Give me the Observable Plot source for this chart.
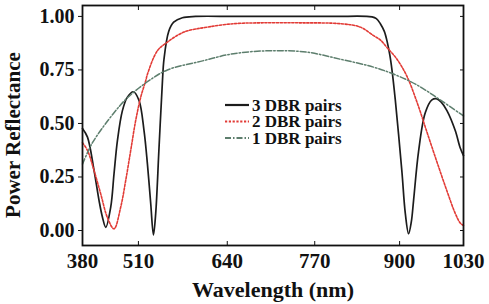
<!DOCTYPE html>
<html>
<head>
<meta charset="utf-8">
<script src="https://cdn.jsdelivr.net/npm/d3@7"></script>
<script src="https://cdn.jsdelivr.net/npm/@observablehq/plot@0.6"></script>
<style>
  html, body { margin: 0; padding: 0; background: #fff; }
  #chart { position: relative; width: 489px; height: 304px; }
</style>
</head>
<body>
<div id="chart"></div>
<script>
// ---- data (wavelength in nm as labelled, reflectance 0..1) ----
const xTickLabels = [380, 510, 640, 770, 900, 1030];
const yTickValues = [0, 0.25, 0.5, 0.75, 1.0];
const seriesNames = ["3 DBR pairs", "2 DBR pairs", "1 DBR pairs"];

const wl3 = [380, 391.6, 406.9, 418.5, 426.4, 434.1, 445.7, 453.3, 461.2, 472.8, 484.4, 498.4, 510.9, 518.2, 523.2, 528, 532, 535.3, 540.2, 545.2, 547.4, 554.3, 561.6, 574.3, 593.7, 650, 720, 800, 857.8, 864.4, 870.5, 876.6, 881.1, 885, 888.3, 893.4, 898.4, 904.9, 911.6, 918.3, 923.8, 928.4, 938.6, 952.2, 965.8, 976, 984.7, 996.3, 1013.2, 1023.4, 1030];
const r3  = [0.477, 0.436, 0.28, 0.14, 0.062, 0.015, 0.11, 0.265, 0.42, 0.56, 0.623, 0.648, 0.607, 0.467, 0.31, 0.126, -0.02, 0.08, 0.39, 0.70, 0.80, 0.93, 0.973, 0.994, 1.0, 1.0, 1.0, 1.0, 0.998, 0.99, 0.966, 0.93, 0.88, 0.82, 0.75, 0.61, 0.45, 0.27, 0.08, -0.015, 0.04, 0.14, 0.37, 0.55, 0.61, 0.615, 0.6, 0.56, 0.467, 0.385, 0.35];

const wl2 = [380, 391.6, 406.9, 422.5, 438, 453.3, 468.9, 480.5, 492.1, 503.7, 513.4, 520.7, 523.2, 537.8, 552.4, 576.7, 610.8, 649.3, 689.4, 748.7, 809.3, 839.9, 860.2, 870.5, 880.7, 896, 915, 935.3, 955.6, 976, 996.3, 1013.2, 1023.4, 1030];
const r2  = [0.41, 0.374, 0.28, 0.17, 0.06, 0.008, 0.11, 0.234, 0.374, 0.514, 0.623, 0.70, 0.73, 0.84, 0.88, 0.927, 0.95, 0.966, 0.97, 0.97, 0.966, 0.95, 0.91, 0.89, 0.855, 0.80, 0.72, 0.60, 0.46, 0.32, 0.185, 0.08, 0.035, 0.023];

const wl1 = [380, 403.2, 453.3, 484.4, 523.2, 552.4, 601, 649.3, 708.6, 758.7, 809.3, 860.2, 896, 935.3, 982.6, 1030];
const r1  = [0.31, 0.41, 0.55, 0.62, 0.695, 0.75, 0.79, 0.826, 0.84, 0.833, 0.80, 0.763, 0.724, 0.68, 0.61, 0.535];

// ---- build table ----
const rows = [];
[[wl3, r3, seriesNames[0]], [wl2, r2, seriesNames[1]], [wl1, r1, seriesNames[2]]].forEach(([w, r, s]) => {
  w.forEach((x, i) => rows.push({wl: x, r: r[i], series: s}));
});

const colors = ["#1c1c1c", "#e23b36", "#5d7e6d"];
const dashes = [null, "2.2,1.6", "6,2,1.5,2"];
const widths = [1.7, 1.6, 1.5];

const font = "Liberation Serif, Times New Roman, serif";

// the printed wavelength axis is not evenly spaced: piecewise-linear warp
const warp = d3.scaleLinear().domain(xTickLabels).range([0, 56, 145, 232.6, 317.6, 381.6]);

const plot = Plot.plot({
  width: 489,
  height: 304,
  marginLeft: 82,
  marginRight: 26,
  marginTop: 5,
  marginBottom: 59,
  style: {fontFamily: font, fontWeight: "bold", fontSize: "20px", color: "#111", background: "#fff"},
  x: {type: "linear", transform: warp, nice: false, label: null},
  y: {domain: [-0.07, 1.051], label: null},
  marks: [
    ...seriesNames.map((s, k) => Plot.line(rows.filter(d => d.series === s), {
      x: "wl", y: "r", stroke: colors[k], strokeWidth: widths[k],
      strokeDasharray: dashes[k], curve: "catmull-rom"
    })),
    Plot.frame({stroke: "#111", strokeWidth: 1.8}),
    Plot.axisX(xTickLabels, {anchor: "bottom", tickSize: -4, tickPadding: 12, tickFormat: d => String(d), fontSize: 21, label: null}),
    Plot.axisX(xTickLabels.slice(1, -1), {anchor: "top", tickSize: -4, tickFormat: () => "", label: null}),
    Plot.axisY(yTickValues, {anchor: "left", tickSize: 4, tickPadding: 4, tickFormat: d3.format(".2f"), fontSize: 20, label: null}),
    Plot.axisY(yTickValues, {anchor: "right", tickSize: -4, tickFormat: () => "", label: null}),
    Plot.text(["Wavelength (nm)"], {frameAnchor: "bottom", dy: 51, fontSize: 22, fontWeight: "bold", fill: "#111"})
  ]
});

document.getElementById("chart").appendChild(plot);

const svg = d3.select(plot);
// y-axis title
svg.append("text")
  .attr("transform", "translate(13,135) rotate(-90)")
  .attr("text-anchor", "middle").attr("dy", "0.35em")
  .style("font-family", font).style("font-weight", "bold").style("font-size", "21px")
  .attr("fill", "#111").text("Power Reflectance");

// ---- legend inside the plot area ----
const lg = svg.append("g")
  .style("font-family", font).style("font-weight", "bold").style("font-size", "17px")
  .attr("text-anchor", "start");
seriesNames.forEach((s, k) => {
  const cy = 105 + k * 16.5;
  lg.append("line").attr("x1", 225).attr("x2", 249).attr("y1", cy).attr("y2", cy)
    .attr("stroke", colors[k]).attr("stroke-width", k === 0 ? 2.2 : 2)
    .attr("stroke-dasharray", dashes[k]);
  lg.append("text").attr("x", 252).attr("y", cy).attr("dy", "0.35em").attr("fill", "#111").text(s);
});
</script>
</body>
</html>
